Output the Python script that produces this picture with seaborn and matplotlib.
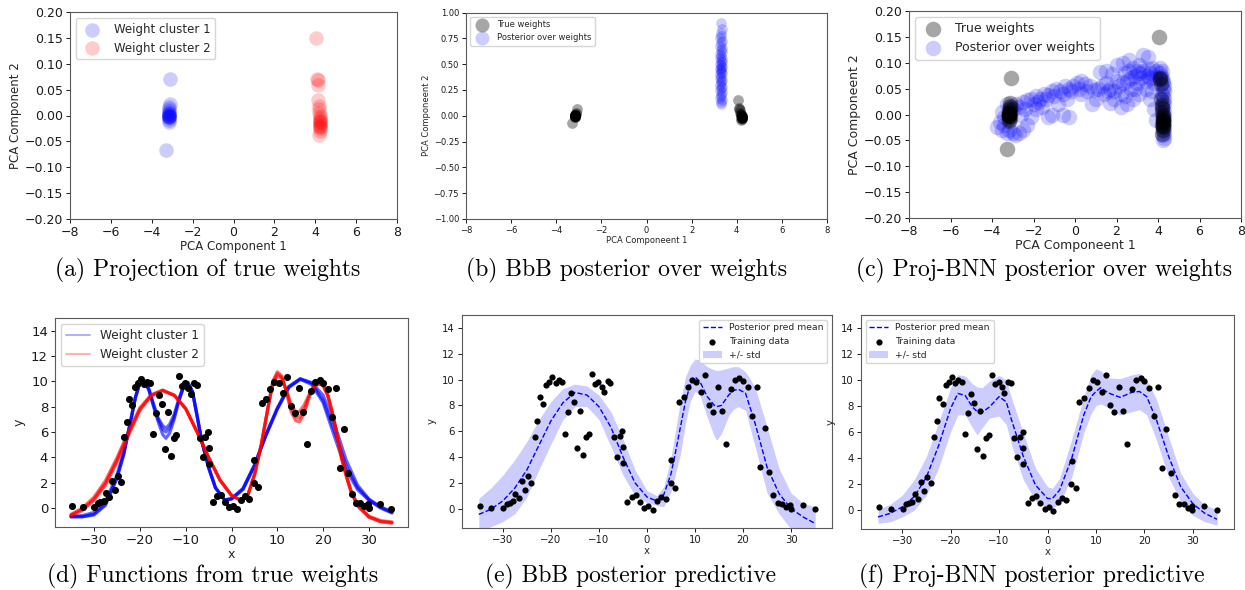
import matplotlib
matplotlib.use("Agg")
import matplotlib.pyplot as plt
import seaborn as sns
from matplotlib.lines import Line2D

# ---- data ----
# (a) projection of true weights
clu1_x = [-3.10, -3.12, -3.14, -3.15, -3.15, -3.16, -3.15, -3.17, -3.16, -3.18,
          -3.16, -3.17, -3.16, -3.15, -3.17, -3.16, -3.28]
clu1_y = [0.070, 0.022, 0.017, 0.012, 0.008, 0.005, 0.003, 0.002, 0.000, 0.000,
          -0.001, -0.002, -0.003, -0.005, -0.008, -0.012, -0.066]
clu2_x = [4.05, 4.10, 4.12, 4.15, 4.15, 4.18, 4.20, 4.20, 4.22, 4.22, 4.22, 4.23,
          4.22, 4.23, 4.24, 4.24, 4.22, 4.20, 4.22, 4.21]
clu2_y = [0.150, 0.071, 0.069, 0.058, 0.030, 0.018, 0.012, 0.005, 0.000, -0.005,
          -0.008, -0.012, -0.015, -0.018, -0.022, -0.025, -0.030, -0.038, -0.010, -0.020]

# (b) BbB posterior over weights
bbb_x = [3.30, 3.34, 3.28, 3.32, 3.26, 3.36, 3.30, 3.24, 3.33, 3.28, 3.35, 3.27,
         3.31, 3.25, 3.36, 3.29, 3.33, 3.26, 3.31, 3.35, 3.28, 3.24, 3.32, 3.29,
         3.36, 3.27, 3.31, 3.25, 3.34, 3.29, 3.32, 3.26, 3.35, 3.30, 3.27, 3.33,
         3.29, 3.31, 3.26, 3.34, 3.30, 3.32]
bbb_y = [0.90, 0.84, 0.80, 0.77, 0.75, 0.72, 0.70, 0.68, 0.66, 0.64, 0.62, 0.60,
         0.58, 0.56, 0.55, 0.53, 0.52, 0.50, 0.49, 0.47, 0.46, 0.45, 0.44, 0.42,
         0.41, 0.40, 0.38, 0.37, 0.35, 0.34, 0.32, 0.30, 0.28, 0.27, 0.25, 0.23,
         0.21, 0.19, 0.17, 0.15, 0.13, 0.11]

# (c) Proj-BNN posterior over weights
proj_x = [-3.75, -3.6, -3.5, -3.4, -3.3, -3.2, -3.3, -3.1, -3.0, -2.9, -2.7, -2.5,
          -2.3, -3.0, -2.85, -2.7, -2.5, -2.3, -2.1, -1.9, -1.7, -1.5, -1.3, -1.1,
          -0.9, -0.7, -0.5, -0.3, -0.1, 0.1, 0.3, 0.5, 0.7, 0.9, 1.1, 1.3, 1.5, 1.7,
          1.9, 2.1, 2.3, 2.5, 2.7, 2.9, 3.1, 3.3, 3.5, 3.7, 3.9, 1.2, 1.5, 1.8, 2.0,
          2.3, 2.6, 3.3, 3.5, 2.8, 3.1, 3.6, 3.8, 3.4, 3.1, 2.8, 2.5, 3.6, 3.8, 3.9,
          3.7, 2.2, 1.7, 2.2, 2.9, 1.0, 0.8, -0.4, -0.8, -1.3, -1.1, -0.6, -0.3,
          -1.9, -2.1, -1.6, 0.3, -3.5, -3.4, -3.25, -3.15, -3.2,
          -2.6, -2.4, -2.0, -1.8, -1.4, -1.0, -0.6, -0.2, 0.2, 0.6, 1.4, 1.6, 2.4,
          2.7, 3.0, 3.2, 3.4, 3.6, 3.9, 2.0, 2.6, 3.0, 3.5, 1.9, 2.4,
          4.25, 4.30, 4.22, 4.28, 4.25, 4.30, 4.22, 4.27, 4.25, 4.30, 4.23, 4.28,
          4.25, 4.20, 4.27, 4.23, 4.30, 4.25, 4.20, 4.27, 4.23, 4.28, 4.22, 4.25,
          4.20, 4.15, 4.10, 4.20, 4.10]
proj_y = [-0.025, -0.015, -0.03, -0.02, -0.035, -0.03, 0.02, 0.015, -0.035, -0.04,
          -0.035, -0.03, -0.02, 0.01, 0.02, 0.015, 0.025, 0.028, 0.03, 0.035, 0.03,
          0.04, 0.038, 0.045, 0.05, 0.045, 0.055, 0.05, 0.055, 0.06, 0.065, 0.058,
          0.055, 0.048, 0.05, 0.055, 0.06, 0.05, 0.045, 0.055, 0.06, 0.065, 0.07,
          0.075, 0.08, 0.085, 0.088, 0.09, 0.085, 0.082, 0.085, 0.078, 0.095, 0.1,
          0.105, 0.115, 0.112, 0.09, 0.095, 0.07, 0.06, 0.05, 0.04, 0.03, 0.02, 0.03,
          0.01, -0.01, 0.045, 0.04, 0.022, 0.015, 0.05, 0.03, 0.02, 0.03, 0.02,
          -0.005, 0.0, 0.0, -0.005, 0.01, -0.005, 0.015, 0.04, 0.005, -0.005, 0.0,
          -0.01, 0.01,
          0.0, 0.01, 0.02, 0.025, 0.03, 0.035, 0.04, 0.045, 0.05, 0.045, 0.04, 0.045,
          0.035, 0.05, 0.06, 0.07, 0.065, 0.08, 0.07, 0.065, 0.085, 0.085, 0.075,
          0.03, 0.08,
          -0.05, -0.045, -0.04, -0.035, -0.03, -0.025, -0.02, -0.015, -0.01, -0.005,
          0.0, 0.005, 0.01, 0.015, 0.02, 0.025, 0.03, 0.035, 0.04, 0.045, 0.05,
          0.055, 0.06, 0.065, 0.07, 0.075, 0.08, 0.085, 0.09]

# training data (d, e, f)
train_x = [-34.8, -32.4, -29.9, -29.2, -28.6, -27.9, -27.4, -26.7, -26.1, -25.4,
           -24.8, -24.1, -23.4, -22.8, -22.3, -21.6, -21.0, -20.4, -19.7, -19.0,
           -18.4, -17.7, -17.1, -16.5, -15.8, -15.2, -14.6, -13.9, -13.3, -12.6,
           -12.0, -11.4, -10.8, -10.1, -9.4, -8.9, -8.1, -7.6, -6.9, -6.3, -5.7,
           -5.1, -5.0, -5.0, -4.1, -3.2, -2.3, -1.5, -0.6, 0.3, 1.2, 2.1, 3.0, 3.9,
           4.9, 5.0, 5.8, 6.6, 7.6, 8.5, 9.3, 10.3, 11.2, 12.0, 12.9, 13.8, 14.7,
           15.6, 16.5, 17.4, 18.3, 19.2, 20.0, 21.0, 21.9, 22.8, 23.6, 24.5, 25.4,
           26.3, 27.2, 28.1, 29.0, 29.8, 29.9, 32.4, 34.9]
train_y = [0.18, 0.05, 0.05, 0.39, 0.47, 0.57, 1.17, 0.83, 2.15, 1.43, 2.51, 2.02,
           5.57, 6.82, 8.63, 8.12, 9.57, 9.83, 10.19, 9.77, 9.96, 9.83, 5.81, 7.47,
           8.94, 8.24, 4.69, 7.60, 4.12, 5.55, 5.76, 10.40, 9.67, 9.83, 9.44, 9.02,
           9.85, 9.75, 5.55, 4.02, 5.63, 6.01, 4.77, 3.50, 0.49, 0.91, 1.04, 0.49,
           0.08, 0.18, -0.08, 0.60, 0.91, 0.75, 2.00, 3.76, 1.63, 8.27, 8.63, 9.39,
           9.96, 9.83, 9.07, 10.35, 8.04, 7.49, 9.44, 7.60, 5.03, 9.26, 9.96, 10.11,
           9.90, 9.39, 7.18, 9.44, 3.19, 6.22, 2.80, 1.09, 0.41, 0.39, 0.13, 0.31,
           -0.03, 0.29, -0.05]

# (d) functions from true weights
blue_x = [-35, -32.5, -30, -27.5, -25, -23.5, -22, -21, -20, -19, -18, -17, -16, -15,
          -14.3, -13.5, -12.5, -11.5, -10.5, -9.5, -8.5, -7.5, -6.5, -5, -3.5, -1.5,
          0, 2.5, 5, 7.5, 10, 12.5, 15, 17.5, 20, 22.5, 25, 27.5, 30, 32.5, 35]
blue_1 = [-0.69, -0.68, -0.5, 0.3, 2.4, 4.3, 6.9, 8.7, 9.9, 10.05, 9.3, 8.0, 6.8, 5.8,
          5.5, 5.9, 7.0, 8.4, 9.5, 9.9, 9.2, 7.3, 5.3, 3.2, 1.6, 0.63, 0.72, 1.5, 3.35,
          5.75, 7.85, 9.55, 10.2, 9.85, 8.5, 6.0, 3.35, 1.6, 0.65, 0.05, -0.35]
blue_2 = [-0.65, -0.6, -0.35, 0.5, 2.6, 4.4, 6.9, 8.7, 9.85, 10.0, 9.3, 8.1, 7.0, 6.2,
          6.0, 6.3, 7.2, 8.5, 9.5, 9.85, 9.1, 7.2, 5.3, 3.2, 1.6, 0.65, 0.75, 1.55, 3.4,
          5.8, 7.9, 9.6, 10.2, 9.9, 8.9, 6.6, 3.8, 1.8, 0.7, 0.1, -0.3]
blue_3 = [-0.7, -0.7, -0.55, 0.2, 2.3, 4.2, 6.8, 8.6, 9.9, 10.05, 9.4, 8.2, 7.1, 6.5,
          6.3, 6.6, 7.4, 8.6, 9.6, 9.9, 9.2, 7.3, 5.3, 3.2, 1.6, 0.62, 0.7, 1.45, 3.3,
          5.7, 7.8, 9.5, 10.15, 9.75, 8.3, 5.6, 3.0, 1.45, 0.6, 0.0, -0.4]
red_x = [-35, -32.5, -30, -27.5, -25, -22.5, -20, -17.5, -15, -12.5, -10, -7.5, -5,
         -2.5, 0, 2, 3.5, 5, 6.5, 8, 9, 10, 11, 12, 13, 14, 14.8, 15.8, 17, 18, 19,
         20, 21, 22, 23, 24, 25, 26, 27.5, 30, 32.5, 35]
red_1 = [-0.55, -0.1, 0.7, 1.95, 3.75, 5.85, 7.8, 8.9, 9.3, 8.9, 7.85, 6.0, 4.0, 2.2,
         1.0, 0.6, 0.95, 2.6, 5.0, 8.0, 9.9, 10.6, 10.3, 9.2, 7.9, 7.2, 7.1, 7.7, 8.9,
         9.6, 9.85, 9.7, 8.9, 7.5, 5.8, 4.0, 2.6, 1.4, 0.2, -0.7, -1.05, -1.15]
red_2 = [-0.5, 0.0, 0.85, 2.15, 3.95, 6.0, 7.9, 8.95, 9.3, 8.9, 7.85, 6.0, 4.0, 2.2,
         1.0, 0.6, 0.95, 2.6, 5.0, 8.0, 9.8, 10.4, 10.2, 9.3, 8.2, 7.6, 7.6, 8.1, 9.0,
         9.65, 9.85, 9.7, 8.95, 7.6, 5.9, 4.1, 2.65, 1.45, 0.25, -0.65, -1.0, -1.1]
red_3 = [-0.6, -0.2, 0.6, 1.8, 3.6, 5.7, 7.7, 8.85, 9.25, 8.9, 7.85, 6.0, 4.0, 2.2,
         1.0, 0.6, 0.95, 2.6, 5.0, 8.0, 10.0, 10.75, 10.4, 9.1, 7.6, 6.9, 6.8, 7.4,
         8.8, 9.55, 9.8, 9.65, 8.85, 7.4, 5.7, 3.9, 2.55, 1.35, 0.15, -0.75, -1.1, -1.2]

# (e) BbB posterior predictive
bbb_px = [-35, -32.5, -30, -27.5, -25, -22.5, -20, -17.5, -15, -12.5, -10, -7.5, -5,
          -2.5, 0, 2, 3.5, 5, 6, 7, 8, 9, 10, 11, 12.5, 14, 14.5, 15.5, 17, 18, 19,
          20.5, 22.5, 25, 27.5, 30, 32.5, 35]
bbb_mean = [-0.45, -0.05, 0.6, 1.6, 3.0, 4.9, 6.8, 8.2, 9.0, 8.8, 7.9, 6.3, 4.0, 2.0,
            0.9, 0.6, 1.1, 2.7, 4.5, 6.4, 8.3, 9.6, 10.2, 9.85, 8.7, 8.0, 7.9, 8.0,
            8.8, 9.15, 9.25, 8.95, 6.6, 3.2, 1.15, 0.0, -0.65, -1.15]
bbb_hi = [0.8, 1.6, 2.6, 3.8, 5.2, 6.9, 8.3, 9.3, 9.65, 9.5, 8.8, 7.5, 5.4, 3.0, 1.4,
          1.0, 1.7, 4.0, 6.2, 8.4, 10.2, 11.1, 11.6, 11.5, 11.0, 10.75, 10.7, 10.75,
          10.9, 11.0, 11.0, 10.6, 9.4, 6.3, 3.1, 1.2, 0.4, 0.15]
bbb_lo = [-1.8, -1.4, -1.0, -0.4, 0.9, 3.0, 5.0, 6.9, 7.9, 7.9, 6.9, 4.8, 2.6, 1.0,
          0.45, 0.25, 0.15, 1.3, 2.8, 4.3, 6.6, 8.3, 9.1, 8.8, 7.1, 5.6, 5.3, 5.8,
          7.2, 7.7, 7.9, 7.6, 4.8, 1.2, -0.4, -1.6, -2.0, -2.0]

# (f) Proj-BNN posterior predictive
proj_px = [-35, -32.5, -30, -27.5, -25, -22.5, -20, -18.5, -17, -15.5, -14.5, -13.5,
           -12, -10, -8.5, -7.5, -5, -2.5, 0, 1, 2.5, 5, 7.5, 9, 10, 11, 12.5, 15,
           17.5, 19, 20.5, 22.5, 25, 27.5, 30, 32.5, 35]
proj_mean = [-0.57, -0.3, 0.2, 1.0, 2.5, 4.9, 7.8, 8.95, 8.8, 7.9, 7.55, 7.5, 7.9,
             8.7, 8.3, 7.0, 4.1, 1.9, 0.85, 0.85, 1.5, 3.95, 7.3, 8.7, 9.1, 9.4, 9.0,
             8.65, 9.05, 9.1, 8.7, 6.9, 4.1, 1.75, 0.45, -0.3, -0.75]
proj_hi = [0.0, 0.4, 1.1, 2.3, 4.1, 6.7, 9.4, 10.4, 10.3, 9.7, 9.45, 9.4, 9.9, 10.35,
           10.0, 8.7, 5.9, 3.2, 1.75, 1.65, 2.4, 5.4, 8.7, 10.4, 10.85, 10.7, 10.15,
           10.1, 10.4, 10.5, 10.0, 8.5, 5.6, 2.8, 1.25, 0.35, 0.0]
proj_lo = [-1.05, -0.95, -0.57, -0.05, 1.1, 3.2, 6.0, 7.3, 7.3, 6.3, 5.75, 6.3, 7.05,
           7.2, 6.55, 5.1, 2.3, 0.7, 0.08, 0.08, 0.45, 2.5, 5.9, 7.4, 8.0, 8.15, 7.85,
           7.3, 7.55, 7.7, 7.3, 5.35, 2.5, 0.6, -0.45, -0.95, -1.2]

y_ticks = [0, 2, 4, 6, 8, 10, 12, 14]
b_ticks = [-1, -0.75, -0.5, -0.25, 0, 0.25, 0.5, 0.75, 1]

captions = ["(a) Projection of true weights", "(b) BbB posterior over weights",
            "(c) Proj-BNN posterior over weights", "(d) Functions from true weights",
            "(e) BbB posterior predictive", "(f) Proj-BNN posterior predictive"]

W, H = 1245, 590


def rect(l, r, t, b):
    return [l / W, 1 - b / H, (r - l) / W, (b - t) / H]


def style_ax(ax, fs):
    for s in ax.spines.values():
        s.set_color("0.35")
        s.set_linewidth(0.8)
    ax.tick_params(labelsize=fs, length=3, width=0.7, colors="0.1", pad=2)


def weights_panel(ax, fs, lfs, label, ylim):
    ax.set_xlim(-8, 8)
    ax.set_ylim(*ylim)
    ax.set_xlabel(label + " 1", fontsize=lfs, labelpad=1)
    ax.set_ylabel(label + " 2", fontsize=lfs, labelpad=2)
    style_ax(ax, fs)


def predictive(ax, px, mean, lo, hi, loc, fs, lfs):
    ax.fill_between(px, lo, hi, color="blue", alpha=0.2, lw=0, label="+/- std")
    sns.lineplot(x=px, y=mean, color="blue", lw=1, linestyle="--", ax=ax,
                 estimator=None, sort=False, label="Posterior pred mean")
    sns.scatterplot(x=train_x, y=train_y, color="black", s=20, edgecolor="black",
                    linewidth=0, ax=ax, label="Training data", zorder=3)
    h, l = ax.get_legend_handles_labels()
    order = ["Posterior pred mean", "Training data", "+/- std"]
    hd = dict(zip(l, h))
    ax.legend([hd[k] for k in order], order, loc=loc, fontsize=lfs)
    ax.set_ylim(-1.5, 15)
    ax.set_yticks(y_ticks)
    ax.set_xlabel("x", fontsize=fs, labelpad=1)
    ax.set_ylabel("y", fontsize=fs)
    style_ax(ax, fs)


sns.set_style("ticks")
plt.rcParams["font.family"] = ["DejaVu Sans"]

fig = plt.figure(figsize=(W / 100, H / 100), dpi=100)

# (a)
ax = fig.add_axes(rect(70, 397, 12, 219))
sns.scatterplot(x=clu1_x, y=clu1_y, color="blue", alpha=0.2, s=110, linewidth=0,
                ax=ax, label="Weight cluster 1")
sns.scatterplot(x=clu2_x, y=clu2_y, color="red", alpha=0.2, s=110, linewidth=0,
                ax=ax, label="Weight cluster 2")
ax.legend(loc="upper left", fontsize=8.5)
weights_panel(ax, 9, 8.5, "PCA Component", (-0.2, 0.2))

# (b)
true_x = clu1_x + clu2_x
true_y = clu1_y + clu2_y
ax = fig.add_axes(rect(466, 827, 12.5, 219))
sns.scatterplot(x=true_x, y=true_y, color="black", alpha=0.35, s=60, linewidth=0,
                ax=ax, label="True weights")
sns.scatterplot(x=bbb_x, y=bbb_y, color="blue", alpha=0.2, s=60, linewidth=0,
                ax=ax, label="Posterior over weights")
ax.legend(loc="upper left", fontsize=6, markerscale=1.3)
weights_panel(ax, 6, 6, "PCA Componeent", (-1, 1))
ax.set_yticks(b_ticks)

# (c)
ax = fig.add_axes(rect(909, 1241, 11, 218))
sns.scatterplot(x=proj_x, y=proj_y, color="blue", alpha=0.2, s=125, linewidth=0,
                ax=ax, label="Posterior over weights")
sns.scatterplot(x=true_x, y=true_y, color="black", alpha=0.35, s=125, linewidth=0,
                ax=ax, label="True weights")
h, l = ax.get_legend_handles_labels()
ax.legend(h[::-1], l[::-1], loc="upper left", fontsize=9)
weights_panel(ax, 9, 9, "PCA Componeent", (-0.2, 0.2))

# (d)
ax = fig.add_axes(rect(55, 408, 318, 527))
for yy in (blue_1, blue_2, blue_3):
    sns.lineplot(x=blue_x, y=yy, color="blue", alpha=0.6, lw=2.3, ax=ax,
                 estimator=None, sort=False)
for yy in (red_1, red_2, red_3):
    sns.lineplot(x=red_x, y=yy, color="red", alpha=0.6, lw=2.3, ax=ax,
                 estimator=None, sort=False)
sns.scatterplot(x=train_x, y=train_y, color="black", s=26, linewidth=0, ax=ax,
                zorder=3)
ax.legend([Line2D([], [], color="blue", alpha=0.3, lw=1.5),
           Line2D([], [], color="red", alpha=0.3, lw=1.5)],
          ["Weight cluster 1", "Weight cluster 2"], loc="upper left", fontsize=8.7)
ax.set_ylim(-1.5, 15)
ax.set_yticks(y_ticks)
ax.set_xlabel("x", fontsize=9, labelpad=1)
ax.set_ylabel("y", fontsize=9)
style_ax(ax, 9.5)

# (e), (f)
ax = fig.add_axes(rect(462, 832, 315, 528))
predictive(ax, bbb_px, bbb_mean, bbb_lo, bbb_hi, "upper right", 7.3, 6.7)
ax = fig.add_axes(rect(861, 1234, 315, 529))
predictive(ax, proj_px, proj_mean, proj_lo, proj_hi, "upper left", 7.3, 6.7)

cap_pos = [(208, 270), (626, 270), (1044, 270), (213, 576), (631, 576), (1032, 576)]
for (cx, cy), txt in zip(cap_pos, captions):
    fig.text(cx / W, 1 - cy / H, txt, ha="center", va="center", fontsize=17,
             family="cmr10", color="black")

fig.savefig("out.png", dpi=100)
